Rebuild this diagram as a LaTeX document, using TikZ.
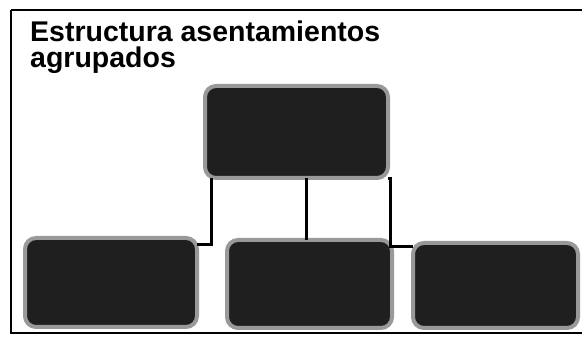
\documentclass[tikz,border=0pt]{standalone}
\usepackage{fontspec}
\setmainfont{Liberation Sans}
\begin{document}
\begin{tikzpicture}[x=1pt,y=-1pt,
  box/.style={rounded corners=11pt, fill=black!88, draw=black!40, line width=4pt},
  titletext/.style={anchor=base west, inner sep=0pt, font=\fontsize{28.5}{25}\selectfont\bfseries},
  conn/.style={line width=3pt, black}]
\useasboundingbox (0,0) rectangle (582,339);
\fill[white] (0,0) rectangle (582,339);
\draw[line width=1.6pt] (11,10) -- (582,10);
\draw[line width=1.2pt] (11,10) -- (11,333) -- (582,333);
\node[titletext, text depth=0pt] (title1) at (30,42) {Estructura asentamientos};
\node[titletext] (title2) at (30,68) {agrupados};
\path[box] (205,86) rectangle (388,178);
\node (topbox) at (296.5,132) [minimum width=183pt, minimum height=92pt, inner sep=0pt] {};
\path[box] (25,238) rectangle (197,327);
\node (lbox) at (111,282.5) [minimum width=172pt, minimum height=89pt, inner sep=0pt] {};
\path[box] (227,240) rectangle (392,328);
\node (mbox) at (309.5,284) [minimum width=165pt, minimum height=88pt, inner sep=0pt] {};
\path[box] (413,243) rectangle (578,328);
\node (rbox) at (495.5,285.5) [minimum width=165pt, minimum height=85pt, inner sep=0pt] {};
\draw[conn] ([xshift=7pt]topbox.south west) |- (lbox.east |- 0,245);
\draw[conn] (topbox.south -| 306,0) -- (mbox.north -| 306,0);
\draw[conn] (topbox.south east) -- ++(2,0) |- (rbox.west |- 0,247);
\end{tikzpicture}
\end{document}
